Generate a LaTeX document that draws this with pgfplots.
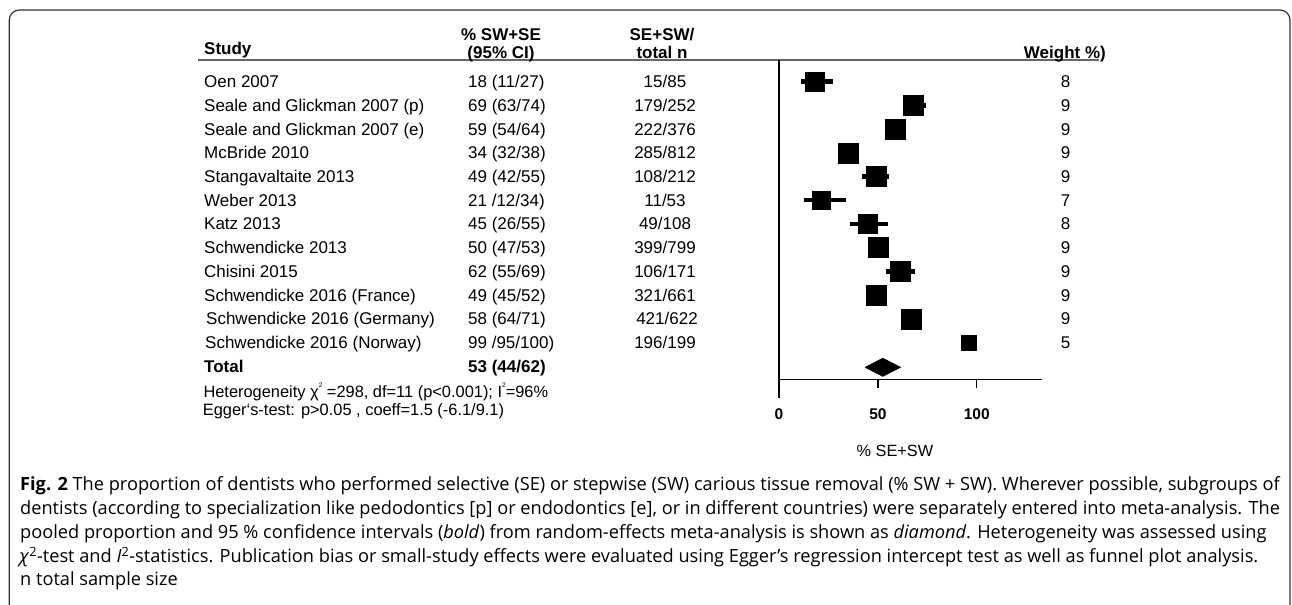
\documentclass[border=0pt]{standalone}
\usepackage{pgfplots}
\pgfplotsset{compat=1.18}
\usepackage{fontspec}
\setmainfont{Liberation Sans}
\newfontfamily\capfont{Open Sans}

\newcommand{\tf}{\fontsize{17bp}{20bp}\selectfont}
\newcommand{\sm}{\fontsize{16.4bp}{19bp}\selectfont}
\newcommand{\cf}{\capfont\fontsize{18.2bp}{21bp}\selectfont}
\newcommand{\tinysup}[1]{\raisebox{0.62em}{\fontsize{6.5bp}{7bp}\selectfont #1}}

\begin{document}
\begin{tikzpicture}[x=1bp,y=1bp]
\useasboundingbox (0,0) rectangle (1292,605);

% frame round the figure
\draw[line width=1.2bp, black!80, rounded corners=10bp]
  (9.3,-5) -- (9.3,595) -- (1290,595) -- (1290,-5);

% header rule
\draw[line width=2bp, black!60] (197.7,545) -- (1099,545);

\begin{axis}[
  at={(779bp,225.7bp)}, anchor=south west,
  scale only axis, width=263bp, height=319.3bp,
  xmin=0, xmax=133, ymin=0.443, ymax=13.916,
  axis x line*=bottom, axis y line*=left,
  axis line style={line width=1.3bp, -},
  xtick={0,50,100}, xticklabels={0,50,100},
  ytick=\empty,
  tick align=outside,
  major tick length=9bp,
  tick style={line width=1.3bp, black},
  extra x ticks={0}, extra x tick labels={},
  extra x tick style={major tick length=19bp},
  xticklabel style={font=\fontsize{15.5bp}{18bp}\selectfont\bfseries, anchor=base, yshift=-31bp},
  xlabel={\% SE+SW},
  xlabel style={at={(rel axis cs:0.441,0)}, anchor=base, yshift=-77.4bp,
    font=\fontsize{16.3bp}{19bp}\selectfont},
  clip=false,
]
% weight 9
\addplot[only marks, mark=square*, mark size=10bp, black, mark options={line width=0.3bp},
  error bars/.cd, x dir=both, x explicit, error mark=none,
  error bar style={line width=4.5bp, black}]
  coordinates {
    (68,12)   += (6.3,0) -= (5.5,0)
    (58.5,11) += (5.5,0) -= (4.5,0)
    (35,10)   += (3,0)   -= (3,0)
    (49,9)    += (6.5,0) -= (7,0)
    (50,6)    += (3,0)   -= (3,0)
    (61.5,5)  += (7.5,0) -= (7.5,0)
    (49,4)    += (3,0)   -= (4,0)
    (67,3)    += (4,0)   -= (3,0)
  };
% weight 8
\addplot[only marks, mark=square*, mark size=9.4bp, black, mark options={line width=0.3bp},
  error bars/.cd, x dir=both, x explicit, error mark=none,
  error bar style={line width=4.5bp, black}]
  coordinates {
    (18,13) += (9.5,0) -= (7,0)
    (45,7)  += (10,0)  -= (9,0)
  };
% weight 7
\addplot[only marks, mark=square*, mark size=9bp, black, mark options={line width=0.3bp},
  error bars/.cd, x dir=both, x explicit, error mark=none,
  error bar style={line width=4.5bp, black}]
  coordinates {
    (21.5,8) += (12.5,0) -= (9,0)
  };
% weight 5
\addplot[only marks, mark=square*, mark size=7.3bp, black, mark options={line width=0.3bp}]
  coordinates {
    (96,2)
  };
% pooled estimate
\addplot[fill=black, draw=black, line width=0.5bp]
  coordinates {(43.5,0.95) (52.5,1.336) (61.5,0.95) (52.5,0.564) (43.5,0.95)};
\end{axis}

\begin{scope}[every node/.style={inner sep=0pt}]
% headers
\node[anchor=base west] at (204,550) {\tf\bfseries Study};
\node[anchor=base] at (501,564.7) {\tf\bfseries \% SW+SE};
\node[anchor=base] at (501,546.3) {\tf\bfseries (95\% CI)};
\node[anchor=base] at (662,564.7) {\tf\bfseries SE+SW/};
\node[anchor=base] at (662,546.3) {\tf\bfseries total n};
\node[anchor=base east] at (1106,546.7) {\tf\bfseries Weight \%)};

% study names
\node[anchor=base west] at (204,517.2) {\tf Oen 2007};
\node[anchor=base west] at (204,493.5) {\tf Seale and Glickman 2007 (p)};
\node[anchor=base west] at (204,469.8) {\tf Seale and Glickman 2007 (e)};
\node[anchor=base west] at (204,446.1) {\tf McBride 2010};
\node[anchor=base west] at (204,422.4) {\tf Stangavaltaite 2013};
\node[anchor=base west] at (204,398.7) {\tf Weber 2013};
\node[anchor=base west] at (204,375.0) {\tf Katz 2013};
\node[anchor=base west] at (204,351.3) {\tf Schwendicke 2013};
\node[anchor=base west] at (204,327.6) {\tf Chisini 2015};
\node[anchor=base west] at (204,303.9) {\tf Schwendicke 2016 (France)};
\node[anchor=base west] at (206,280.2) {\tf Schwendicke 2016 (Germany)};
\node[anchor=base west] at (205,256.5) {\tf Schwendicke 2016 (Norway)};
\node[anchor=base west] at (204,232.8) {\tf\bfseries Total};

% percentages
\node[anchor=base west] at (468,517.2) {\tf 18 (11/27)};
\node[anchor=base west] at (468,493.5) {\tf 69 (63/74)};
\node[anchor=base west] at (468,469.8) {\tf 59 (54/64)};
\node[anchor=base west] at (468,446.1) {\tf 34 (32/38)};
\node[anchor=base west] at (468,422.4) {\tf 49 (42/55)};
\node[anchor=base west] at (468,398.7) {\tf 21 /12/34)};
\node[anchor=base west] at (468,375.0) {\tf 45 (26/55)};
\node[anchor=base west] at (468,351.3) {\tf 50 (47/53)};
\node[anchor=base west] at (468,327.6) {\tf 62 (55/69)};
\node[anchor=base west] at (468,303.9) {\tf 49 (45/52)};
\node[anchor=base west] at (468,280.2) {\tf 58 (64/71)};
\node[anchor=base west] at (468,256.5) {\tf 99 /95/100)};
\node[anchor=base west] at (468,232.8) {\tf\bfseries 53 (44/62)};

% counts
\node[anchor=base] at (665,517.2) {\tf 15/85};
\node[anchor=base] at (665,493.5) {\tf 179/252};
\node[anchor=base] at (665,469.8) {\tf 222/376};
\node[anchor=base] at (665,446.1) {\tf 285/812};
\node[anchor=base] at (665,422.4) {\tf 108/212};
\node[anchor=base] at (665,398.7) {\tf 11/53};
\node[anchor=base] at (665,375.0) {\tf 49/108};
\node[anchor=base] at (665,351.3) {\tf 399/799};
\node[anchor=base] at (665,327.6) {\tf 106/171};
\node[anchor=base] at (665,303.9) {\tf 321/661};
\node[anchor=base] at (667,280.2) {\tf 421/622};
\node[anchor=base] at (665,256.5) {\tf 196/199};

% weights
\node[anchor=base] at (1065.7,517.2) {\tf 8};
\node[anchor=base] at (1065.7,493.5) {\tf 9};
\node[anchor=base] at (1065.7,469.8) {\tf 9};
\node[anchor=base] at (1065.7,446.1) {\tf 9};
\node[anchor=base] at (1065.7,422.4) {\tf 9};
\node[anchor=base] at (1065.7,398.7) {\tf 7};
\node[anchor=base] at (1065.7,375.0) {\tf 8};
\node[anchor=base] at (1065.7,351.3) {\tf 9};
\node[anchor=base] at (1065.7,327.6) {\tf 9};
\node[anchor=base] at (1065.7,303.9) {\tf 9};
\node[anchor=base] at (1065.7,280.2) {\tf 9};
\node[anchor=base] at (1065.7,256.5) {\tf 5};

% statistics
\node[anchor=base west] at (203.3,207.5) {\sm Heterogeneity χ\tinysup{2} =298, df=11 (p<0.001); I\tinysup{2}=96\%};
\node[anchor=base west] at (202.7,189) {\sm Egger‘s-test: p>0.05 , coeff=1.5 (-6.1/9.1)};

% caption
\node[anchor=base west] at (20,114.5) {\cf\textbf{Fig. 2} The proportion of dentists who performed selective (SE) or stepwise (SW) carious tissue removal (\% SW + SW). Wherever possible, subgroups of};
\node[anchor=base west] at (20,90.5) {\cf dentists (according to specialization like pedodontics [p] or endodontics [e], or in different countries) were separately entered into meta-analysis. The};
\node[anchor=base west] at (20,66.5) {\cf pooled proportion and 95 \% confidence intervals (\textit{bold}) from random-effects meta-analysis is shown as \textit{diamond}. Heterogeneity was assessed using};
\node[anchor=base west] at (19.3,42.5) {\cf\textit{χ}\textsuperscript{2}-test and \textit{I}\textsuperscript{2}-statistics. Publication bias or small-study effects were evaluated using Egger’s regression intercept test as well as funnel plot analysis.};
\node[anchor=base west] at (20,19) {\cf n total sample size};
\end{scope}
\end{tikzpicture}
\end{document}
